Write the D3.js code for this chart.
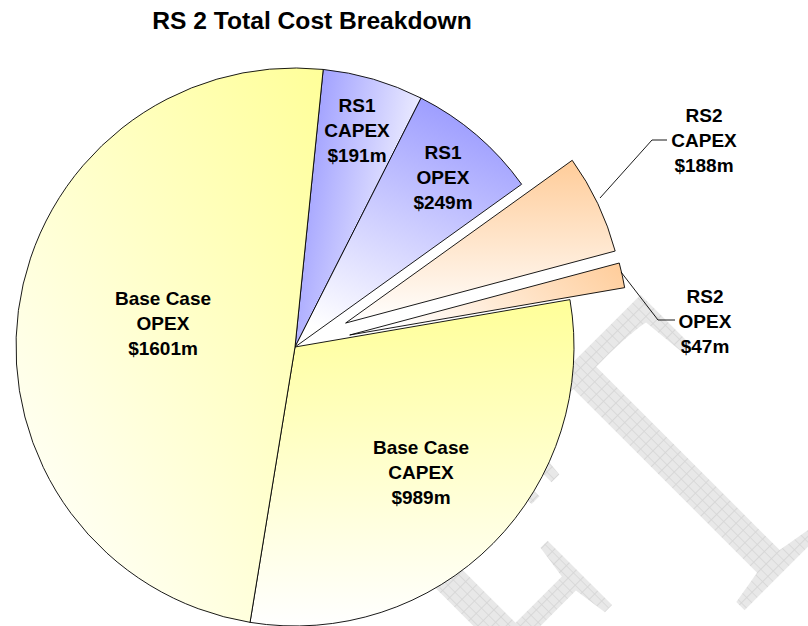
<!DOCTYPE html>
<html>
<head>
<meta charset="utf-8">
<script src="https://cdn.jsdelivr.net/npm/d3@7"></script>
<style>
  html, body { margin: 0; padding: 0; background: #fff; }
  svg { display: block; }
  .lbl { font-family: Arial, "Liberation Sans", sans-serif; font-weight: bold; fill: #000; }
</style>
</head>
<body>
<svg id="chart" width="808" height="626"></svg>
<script>
// ---- data ----
const title = "RS 2 Total Cost Breakdown";
const categories = ["RS1 CAPEX", "RS1 OPEX", "RS2 CAPEX", "RS2 OPEX", "Base Case CAPEX", "Base Case OPEX"];
const values = [191, 249, 188, 47, 989, 1601];
const labelLines = [
  ["RS1", "CAPEX", "$191m"],
  ["RS1", "OPEX", "$249m"],
  ["RS2", "CAPEX", "$188m"],
  ["RS2", "OPEX", "$47m"],
  ["Base Case", "CAPEX", "$989m"],
  ["Base Case", "OPEX", "$1601m"]
];
const exploded = [false, false, true, true, false, false];
const watermarkText = "DRAFT";

// ---- style / layout ----
const baseColors = ["#9999ff", "#9999ff", "#ffcc99", "#ffcc99", "#ffff99", "#ffff99"];
const gradDirs = [
  [0, 0.3, 1, 0.7],
  [0.7, 0, 0.3, 1],
  [0.5, 0, 0.5, 1],
  [1, 0, 0, 0.3],
  [0.5, 0, 0.5, 1],
  [1, 0, 0.1, 1]
];
const cx = 295, cy = 347, R = 279, explodeDist = 56;
const startDeg = 5.8;
const labelPos = [
  [357, 105], [443, 152], [704, 115], [705, 296], [421, 447], [163, 298]
];
const lineH = 25;
const labelFont = 19;

const svg = d3.select("#chart");
const defs = svg.append("defs");

// watermark hatch pattern
const pat = defs.append("pattern").attr("id", "hatch")
  .attr("patternUnits", "userSpaceOnUse").attr("width", 10).attr("height", 10);
pat.append("rect").attr("width", 10).attr("height", 10).attr("fill", "#e8e8e8");
pat.append("path").attr("d", "M0,0.5H10M0.5,0V10").attr("stroke", "#d5d5d5").attr("stroke-width", 1);

// watermark (Times-like serif, rotated 45deg, horizontally condensed)
const wmSX = 0.75, wmSize = 453, wmBase = 958, wmTCenter = 146.5;
const wmG = svg.append("g").attr("transform", "rotate(-45)");
const wm = wmG.append("text")
  .attr("transform", `scale(${wmSX},1)`)
  .attr("x", 0).attr("y", wmBase)
  .style("font-family", "'Liberation Serif', 'Times New Roman', serif")
  .style("font-weight", "normal")
  .style("font-size", wmSize + "px")
  .style("fill", "url(#hatch)")
  .text(watermarkText);
(function placeWatermark() {
  const node = wm.node();
  const n = watermarkText.length - 1;
  let c;
  try {
    const ext = node.getExtentOfChar(n);
    c = ext.x + ext.width / 2;
  } catch (e) {
    const full = node.getComputedTextLength();
    const last = node.getSubStringLength(n, 1);
    c = full - last / 2;
  }
  wm.attr("x", wmTCenter / wmSX - c);
})();

// gradients
values.forEach((v, i) => {
  const g = defs.append("linearGradient").attr("id", "g" + i)
    .attr("x1", gradDirs[i][0]).attr("y1", gradDirs[i][1])
    .attr("x2", gradDirs[i][2]).attr("y2", gradDirs[i][3]);
  g.append("stop").attr("offset", 0).attr("stop-color", baseColors[i]);
  g.append("stop").attr("offset", 1).attr("stop-color", "#ffffff");
});

const toRad = d => d * Math.PI / 180;
const pie = d3.pie().sort(null).value(d => d)
  .startAngle(toRad(startDeg)).endAngle(toRad(startDeg + 360));
const arcs = pie(values);
const arc = d3.arc().innerRadius(0).outerRadius(R);

const g = svg.append("g").attr("transform", `translate(${cx},${cy})`);
g.selectAll("path.slice").data(arcs).join("path")
  .attr("class", "slice")
  .attr("transform", (d, i) => {
    if (!exploded[i]) return null;
    const m = (d.startAngle + d.endAngle) / 2;
    return `translate(${explodeDist * Math.sin(m)},${-explodeDist * Math.cos(m)})`;
  })
  .attr("d", arc)
  .attr("fill", (d, i) => `url(#g${i})`)
  .attr("stroke", "#000").attr("stroke-width", 0.9).attr("stroke-linejoin", "miter");

// leader lines for outside labels
const leaders = {
  2: [[600, 198], [652, 140], [667, 140]],
  3: [[621, 272], [658, 320], [675, 320]]
};
Object.keys(leaders).forEach(k => {
  svg.append("path")
    .attr("d", d3.line()(leaders[k]))
    .attr("fill", "none").attr("stroke", "#000").attr("stroke-width", 0.9);
});

// labels
labelLines.forEach((lines, i) => {
  const t = svg.append("text").attr("class", "lbl").attr("text-anchor", "middle")
    .style("font-size", labelFont + "px");
  lines.forEach((ln, j) => {
    t.append("tspan").attr("x", labelPos[i][0])
      .attr("y", labelPos[i][1] + j * lineH + labelFont * 0.358).text(ln);
  });
});

// title
svg.append("text").attr("class", "lbl").attr("x", 312).attr("y", 29).attr("text-anchor", "middle")
  .style("font-size", "24.6px").text(title);
</script>
</body>
</html>
